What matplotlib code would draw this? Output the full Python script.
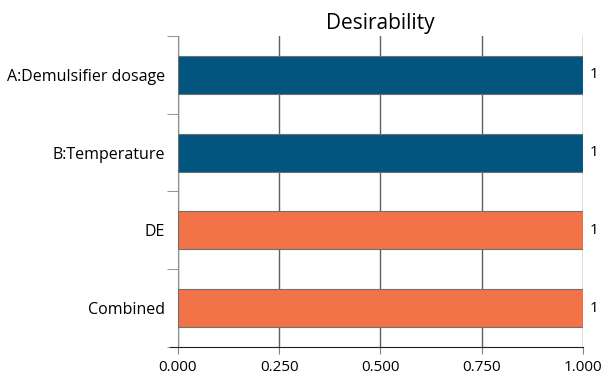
import numpy as np
import matplotlib
matplotlib.use('Agg')
import matplotlib.pyplot as plt

plt.rcParams['font.family'] = ['Open Sans', 'DejaVu Sans']

#factor names and their desirability
names = ['A:Demulsifier dosage', 'B:Temperature', 'DE', 'Combined']
values = [1.0, 1.0, 1.0, 1.0]
colors = ['#02557f', '#02557f', '#f27347', '#f27347']
xticks = [0.0, 0.25, 0.5, 0.75, 1.0]

fig = plt.figure(figsize=(6.05, 3.74), dpi=100)
ax = fig.add_axes([0.294, 0.072, 0.6696, 0.832])

y = np.arange(len(names))
ax.barh(y, values, height=0.49, color=colors, edgecolor='#707070', linewidth=0.8, zorder=3)
for yi, v in zip(y, values):
    ax.text(v + 0.016, yi, '%g' % v, va='center', ha='left', fontsize=11)

ax.set_xlim(0, 1.0)
ax.set_ylim(len(names) - 0.5, -0.5)
ax.set_xticks(xticks)
ax.set_xticklabels(['%.3f' % t for t in xticks], fontsize=11)
ax.set_yticks(y)
ax.set_yticklabels(names, fontsize=11.5)
ax.set_yticks(np.arange(-0.5, len(names), 1.0), minor=True)
ax.tick_params(axis='y', which='major', length=0, pad=9)
ax.tick_params(axis='y', which='minor', length=8, color='#808080')
ax.tick_params(axis='x', length=5, color='#808080', pad=4)
ax.grid(axis='x', color='#606060', linewidth=1.0, zorder=0)

ax.spines['top'].set_visible(False)
ax.spines['right'].set_visible(False)
ax.spines['left'].set_color('#909090')
ax.spines['bottom'].set_color('#202020')
ax.spines['bottom'].set_bounds(-0.02, 1.0)

ax.set_title('Desirability', fontsize=15, pad=5)
plt.savefig('out.png', dpi=100)
